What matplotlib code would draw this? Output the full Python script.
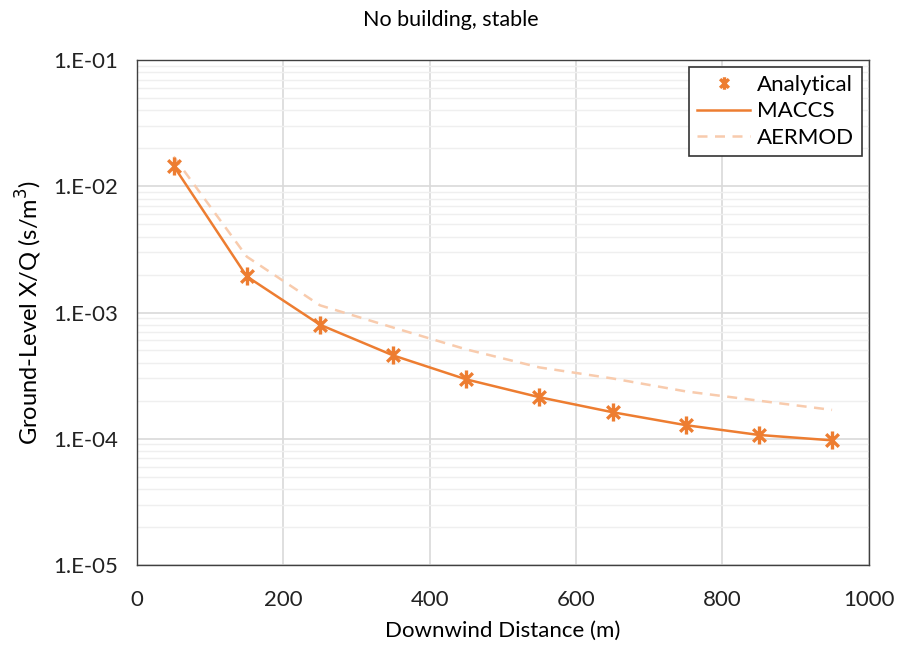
import numpy as np
import matplotlib
matplotlib.use("Agg")
import matplotlib.pyplot as plt
from matplotlib.path import Path
from matplotlib.ticker import FixedLocator, LogLocator, NullFormatter

plt.rcParams['font.family'] = ['Lato', 'DejaVu Sans']

distance = [50, 150, 250, 350, 450, 550, 650, 750, 850, 950]
analytical = [1.45e-2, 1.93e-3, 8.0e-4, 4.57e-4, 2.95e-4, 2.13e-4, 1.62e-4, 1.28e-4, 1.07e-4, 9.7e-5]
maccs = [1.45e-2, 1.93e-3, 8.0e-4, 4.57e-4, 2.95e-4, 2.13e-4, 1.62e-4, 1.28e-4, 1.07e-4, 9.7e-5]
aermod = [1.72e-2, 2.77e-3, 1.14e-3, 7.6e-4, 5.1e-4, 3.67e-4, 3.0e-4, 2.37e-4, 2.0e-4, 1.69e-4]
y_ticks = [1e-5, 1e-4, 1e-3, 1e-2, 1e-1]
y_tick_labels = ["1.E-05", "1.E-04", "1.E-03", "1.E-02", "1.E-01"]

orange = '#ED7D31'
light_orange = '#F8CBAD'

# Excel-style star marker: X plus a vertical bar
star = Path([(-0.7, -0.7), (0.7, 0.7), (-0.7, 0.7), (0.7, -0.7), (0, -1), (0, 1)],
            [Path.MOVETO, Path.LINETO, Path.MOVETO, Path.LINETO, Path.MOVETO, Path.LINETO])

fig = plt.figure(figsize=(9.02, 6.47), dpi=100)
ax = fig.add_axes([0.152, 0.127, 0.811, 0.780])

ax.plot(distance, aermod, color=light_orange, lw=1.8, ls=(0, (4, 3)), label='AERMOD', zorder=2)
ax.plot(distance, maccs, color=orange, lw=1.8, label='MACCS', zorder=3)
ax.plot(distance, analytical, ls='none', marker=star, ms=13, mew=2.4,
        mec=orange, mfc='none', label='Analytical', zorder=4)

ax.set_yscale('log')
ax.set_ylim(1e-5, 1e-1)
ax.set_xlim(0, 1000)
ax.set_xticks([0, 200, 400, 600, 800, 1000])
ax.yaxis.set_major_locator(FixedLocator(y_ticks))
ax.set_yticklabels(y_tick_labels)
ax.yaxis.set_minor_locator(LogLocator(base=10, subs=np.arange(2, 10)))
ax.yaxis.set_minor_formatter(NullFormatter())

ax.grid(True, which='major', color='#D9D9D9', lw=1.2)
ax.grid(True, which='minor', axis='y', color='#EFEFEF', lw=1.0)
ax.set_axisbelow(True)
ax.tick_params(which='both', length=0, labelsize=16, colors='#222222')
ax.tick_params(axis='y', pad=14)
ax.tick_params(axis='x', pad=18)
for s in ax.spines.values():
    s.set_color('#404040')
    s.set_linewidth(1.0)

ax.set_xlabel('Downwind Distance (m)', fontsize=16, labelpad=8)
ax.set_ylabel('Ground-Level X/Q (s/m$^3$)', fontsize=17, labelpad=6)
fig.suptitle('No building, stable', fontsize=15.5, y=0.985)

handles, labels = ax.get_legend_handles_labels()
order = [2, 1, 0]
leg = ax.legend([handles[i] for i in order], [labels[i] for i in order],
                loc='upper right', fontsize=16, frameon=True, fancybox=False,
                edgecolor='#333333', framealpha=1, handlelength=2.4,
                handletextpad=0.3, borderpad=0.35, labelspacing=0.3,
                borderaxespad=0.3, bbox_to_anchor=(1.0, 1.0))
leg.get_frame().set_linewidth(1.2)
leg.legend_handles[0].set_markersize(9)

fig.savefig('out.png', dpi=100)
